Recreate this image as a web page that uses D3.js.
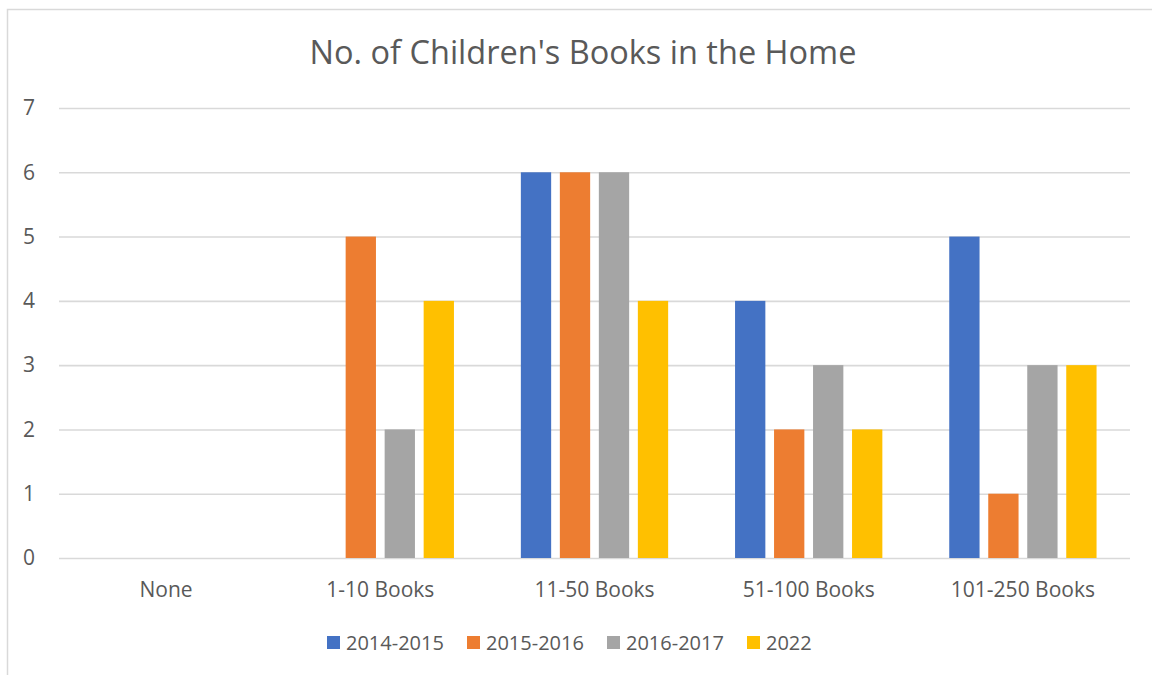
<!DOCTYPE html>
<html>
<head>
<meta charset="utf-8">
<script src="https://cdn.jsdelivr.net/npm/d3@7"></script>
<style>
  html, body { margin: 0; padding: 0; background: #ffffff; }
  svg { display: block; font-family: "Open Sans", "Noto Sans", sans-serif; }
</style>
</head>
<body>
<svg id="chart" width="1152" height="675"></svg>
<script>
// Survey categories and the number of responses per survey year
const categories = ["None", "1-10 Books", "11-50 Books", "51-100 Books", "101-250 Books"];
const seriesNames = ["2014-2015", "2015-2016", "2016-2017", "2022"];
const values2014 = [0, 0, 6, 4, 5];
const values2015 = [0, 5, 6, 2, 1];
const values2016 = [0, 2, 6, 3, 3];
const values2022 = [0, 4, 4, 2, 3];
const yTicks = [0, 1, 2, 3, 4, 5, 6, 7];
const titleText = "No. of Children's Books in the Home";

const seriesValues = [values2014, values2015, values2016, values2022];
const colors = ["#4472C4", "#ED7D31", "#A5A5A5", "#FFC000"];
const textColor = "#595959";
const gridColor = "#D9D9D9";

const svg = d3.select("#chart");

// Chart frame (right and bottom edges run past the page)
svg.append("rect")
  .attr("x", 7.5).attr("y", 9.5)
  .attr("width", 1160).attr("height", 700)
  .attr("fill", "#ffffff")
  .attr("stroke", gridColor).attr("stroke-width", 1.5);

const plot = { left: 59, right: 1130, top: 108, bottom: 558 };

const x0 = d3.scaleBand().domain(categories).range([plot.left, plot.right]).padding(0);
const groupWidth = 147.3;
const x1 = d3.scaleBand().domain(seriesNames).range([0, groupWidth]).paddingInner(0.223).paddingOuter(0);
const y = d3.scaleLinear().domain([0, 7]).range([plot.bottom, plot.top]);

// Horizontal gridlines with value labels
const yAxis = d3.axisLeft(y).tickValues(yTicks).tickSize(-(plot.right - plot.left)).tickPadding(24).tickFormat(d3.format("d"));
const gy = svg.append("g").attr("transform", `translate(${plot.left},0)`).call(yAxis);
gy.select(".domain").remove();
gy.selectAll(".tick line").attr("stroke", gridColor).attr("stroke-width", 1.6);
gy.selectAll(".tick text")
  .attr("fill", textColor)
  .style("font-size", "21px")
  .style("font-family", "'Open Sans', sans-serif");

// Bars
const rows = categories.map((c, i) => ({ cat: c, vals: seriesNames.map((s, j) => ({ s, j, v: seriesValues[j][i] })) }));
const groups = svg.append("g").selectAll("g").data(rows).join("g")
  .attr("transform", d => `translate(${x0(d.cat) + (x0.bandwidth() - groupWidth) / 2},0)`);
groups.selectAll("rect").data(d => d.vals.filter(e => e.v > 0)).join("rect")
  .attr("x", d => x1(d.s))
  .attr("width", x1.bandwidth())
  .attr("y", d => y(d.v))
  .attr("height", d => y(0) - y(d.v))
  .attr("fill", d => colors[d.j]);

// Category labels
const xAxis = d3.axisBottom(x0).tickSize(0).tickPadding(24);
const gx = svg.append("g").attr("transform", `translate(0,${plot.bottom})`).call(xAxis);
gx.select(".domain").remove();
gx.selectAll(".tick text")
  .attr("fill", textColor)
  .style("font-size", "21px")
  .style("font-family", "'Open Sans', sans-serif");

// Title
svg.append("text")
  .attr("x", 583).attr("y", 64)
  .attr("text-anchor", "middle")
  .attr("fill", textColor)
  .style("font-size", "32.5px")
  .text(titleText);

// Legend
const legendStep = 140;
const legend = svg.append("g").attr("transform", "translate(327,636)");
const items = legend.selectAll("g").data(seriesNames).join("g")
  .attr("transform", (d, i) => `translate(${i * legendStep},0)`);
items.append("rect").attr("width", 13).attr("height", 13).attr("fill", (d, i) => colors[i]);
items.append("text")
  .attr("x", 19).attr("y", 14)
  .attr("fill", textColor)
  .style("font-size", "20px")
  .text(d => d);
</script>
</body>
</html>
